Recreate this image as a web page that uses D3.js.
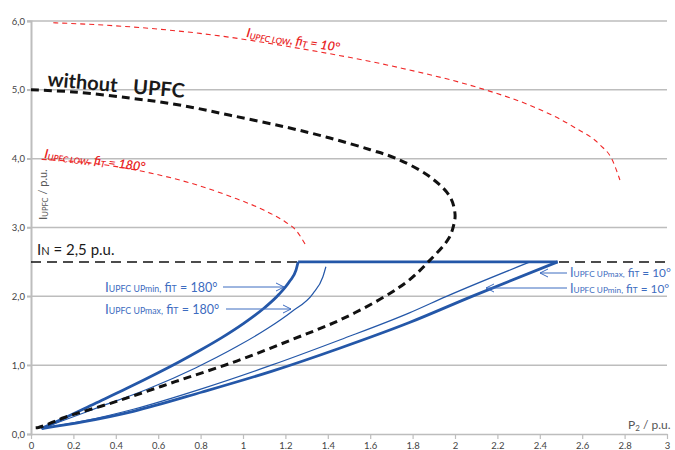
<!DOCTYPE html>
<html><head><meta charset="utf-8">
<script src="https://cdn.jsdelivr.net/npm/d3@7"></script>
<style>body{margin:0;background:#fff}svg{display:block}</style>
</head><body><svg id="c" width="675" height="450"></svg>
<script>
// ---------- data ----------
const xTicks = [0,0.2,0.4,0.6,0.8,1,1.2,1.4,1.6,1.8,2,2.2,2.4,2.6,2.8,3];
const xTickLabels = ["0","0.2","0.4","0.6","0.8","1","1.2","1.4","1.6","1.8","2","2.2","2.4","2.6","2.8","3"];
const yTicks = [0,1,2,3,4,5,6];
const yTickLabels = ["0,0","1,0","2,0","3,0","4,0","5,0","6,0"];
const nominalCurrent = 2.5;

// without UPFC (black dashed)
const noUpfcP = [0,0.2,0.467,0.7,0.94,1.2,1.41,1.6,1.725,1.88,1.976,2.0,1.995,1.97,1.874,1.785,1.67,1.46,1.23,0.97,0.68,0.4,0.158,0.07,0.035,0];
const noUpfcI = [5.0,4.97,4.88,4.78,4.63,4.46,4.30,4.13,4.0,3.74,3.45,3.2,3.05,2.84,2.5,2.24,2.0,1.66,1.37,1.06,0.76,0.47,0.24,0.13,0.095,0.09];

// I_UPFC LOW, fi_T = 10 deg (red dashed)
const low10P = [0.105,0.4,0.797,1.27,1.74,2.133,2.369,2.558,2.684,2.739,2.778];
const low10I = [5.975,5.93,5.82,5.6,5.32,5.01,4.755,4.465,4.2,4.0,3.69];
// I_UPFC LOW, fi_T = 180 deg (red dashed)
const low180P = [0.05,0.3,0.55,0.78,0.95,1.1,1.2,1.25,1.3];
const low180I = [3.99,3.93,3.8,3.62,3.44,3.25,3.08,2.96,2.72];

// I_UPFC UPmin, fi_T = 180 (thick blue)
const upMin180P = [0.05,0.15,0.3,0.45,0.6,0.7,0.8,0.9,1.0,1.1,1.17,1.22,1.25,1.26];
const upMin180I = [0.08,0.22,0.44,0.66,0.89,1.05,1.22,1.40,1.60,1.83,2.03,2.22,2.38,2.5];
// I_UPFC UPmax, fi_T = 180 (thin blue)
const upMax180P = [0.05,0.2,0.321,0.548,0.776,0.971,1.117,1.231,1.33,1.377,1.391];
const upMax180I = [0.08,0.25,0.39,0.65,0.96,1.27,1.535,1.78,2.04,2.285,2.43];
// current limit segment (thick blue)
const limitP = [1.26,2.484];
const limitI = [2.5,2.5];
// I_UPFC UPmin, fi_T = 10 (thick blue)
const upMin10P = [0.05,0.25,0.483,0.808,1.134,1.459,1.785,2.08,2.484];
const upMin10I = [0.08,0.18,0.33,0.61,0.91,1.25,1.62,2.0,2.5];
// I_UPFC UPmax, fi_T = 10 (thin blue)
const upMax10P = [0.05,0.25,0.483,0.808,1.134,1.459,1.785,1.96,2.354];
const upMax10I = [0.08,0.19,0.36,0.66,1.0,1.37,1.76,2.0,2.5];

// ---------- drawing ----------
const svg = d3.select("#c");
const x = d3.scaleLinear().domain([0,3]).range([31,667]);
const y = d3.scaleLinear().domain([0,6]).range([434,21]);
const FONT = "Lato, 'Open Sans', sans-serif";
const zip = (P,I) => P.map((p,i)=>[p,I[i]]);
const smooth = d3.line().x(d=>x(d[0])).y(d=>y(d[1])).curve(d3.curveCatmullRom.alpha(0.5));
const mono = d3.line().x(d=>x(d[0])).y(d=>y(d[1])).curve(d3.curveMonotoneX);
const straight = d3.line().x(d=>x(d[0])).y(d=>y(d[1]));

// gridlines
svg.append("g").selectAll("line").data(yTicks.filter(t=>t>0)).join("line")
  .attr("x1", x(0)-4).attr("x2", x(3)).attr("y1", d=>y(d)).attr("y2", d=>y(d))
  .attr("stroke","#bdbdbd").attr("stroke-width",1.5);

// y axis
const yAxis = svg.append("g").attr("transform",`translate(${x(0)},0)`)
  .call(d3.axisLeft(y).tickValues(yTicks).tickSize(4).tickFormat((d,i)=>yTickLabels[i]));
yAxis.select(".domain").attr("stroke","#bdbdbd").attr("stroke-width",2);
yAxis.selectAll(".tick line").attr("stroke","#bdbdbd").attr("stroke-width",1.5);
yAxis.selectAll(".tick text").attr("font-family",FONT).attr("font-size",9.5).attr("fill","#444").attr("x",-6);

// x axis
const xAxis = svg.append("g").attr("transform",`translate(0,${y(0)})`)
  .call(d3.axisBottom(x).tickValues(xTicks).tickSize(5).tickSizeOuter(0).tickFormat((d,i)=>xTickLabels[i]));
xAxis.select(".domain").attr("stroke","#bdbdbd").attr("stroke-width",1.5);
xAxis.selectAll(".tick line").attr("stroke","#bdbdbd").attr("stroke-width",1.2);
xAxis.selectAll(".tick text").attr("font-family",FONT).attr("font-size",9.5).attr("fill","#444").attr("y",8);

// nominal current line
svg.append("line").attr("x1",x(0)).attr("x2",x(3)).attr("y1",y(nominalCurrent)).attr("y2",y(nominalCurrent))
  .attr("stroke","#111").attr("stroke-width",1.5).attr("stroke-dasharray","10,6");

// red dashed curves
[[low10P,low10I],[low180P,low180I]].forEach(([P,I])=>{
  svg.append("path").attr("d",mono(zip(P,I))).attr("fill","none")
    .attr("stroke","#f02828").attr("stroke-width",1.1).attr("stroke-dasharray","5,4");
});

// blue curves
const BLUE = "#2457a8";
svg.append("path").attr("d",mono(zip(upMax180P,upMax180I))).attr("fill","none").attr("stroke",BLUE).attr("stroke-width",1.2);
svg.append("path").attr("d",mono(zip(upMax10P,upMax10I))).attr("fill","none").attr("stroke",BLUE).attr("stroke-width",1.2);
svg.append("path").attr("d",mono(zip(upMin180P,upMin180I))).attr("fill","none").attr("stroke",BLUE).attr("stroke-width",2.8);
svg.append("path").attr("d",mono(zip(upMin10P,upMin10I))).attr("fill","none").attr("stroke",BLUE).attr("stroke-width",2.8);
svg.append("path").attr("d",straight(zip(limitP,limitI))).attr("fill","none").attr("stroke",BLUE).attr("stroke-width",2.8);

// without UPFC
svg.append("path").attr("d",smooth(zip(noUpfcP,noUpfcI))).attr("fill","none")
  .attr("stroke","#111").attr("stroke-width",3).attr("stroke-dasharray","8,5");

// ---------- text ----------
function richText(g, parts, opts){
  const t = g.append("text").attr("font-family",FONT).attr("fill",opts.fill)
    .attr("font-style",opts.style||"normal").attr("font-weight",opts.weight||"normal");
  parts.forEach(p=>{
    const s = t.append("tspan").text(p.t).attr("font-size",p.s);
    if(p.dy) s.attr("dy",p.dy);
    if(p.dx) s.attr("dx",p.dx);
  });
  return t;
}
// without UPFC
svg.append("text").attr("transform",`translate(47,86) rotate(5)`)
  .attr("font-family",FONT).attr("font-weight","bold").attr("font-size",20).attr("fill","#1a1a1a")
  .call(t=>{t.append("tspan").text("without"); t.append("tspan").attr("dx",16).text("UPFC");});

// red labels
function redLabel(tx,ty,rot,val){
  const g = svg.append("g").attr("transform",`translate(${tx},${ty}) rotate(${rot})`);
  richText(g,[
    {t:"I",s:13},{t:"UPFC LOW",s:8.5,dy:1.5},{t:",  fi",s:12.5,dy:-1.5},{t:"T",s:9,dy:1.5},{t:" = "+val+"°",s:12.5,dy:-1.5}
  ],{fill:"#e82323",style:"italic",weight:"600"});
}
redLabel(246,37,9,"10");
redLabel(44,158,7.5,"180");

// I_N label
richText(svg.append("g").attr("transform","translate(37,255)"),
  [{t:"I",s:15},{t:"N",s:11},{t:" = 2,5 p.u.",s:15}],{fill:"#1a1a1a"});

// blue labels with arrows
const LBLUE = "#3d6cc0";
function blueLabel(tx,ty,kind,val,sz){
  richText(svg.append("g").attr("transform",`translate(${tx},${ty})`),[
    {t:"I",s:sz+1},{t:"UPFC "+kind+",",s:sz*0.7},{t:" fi",s:sz},{t:"T",s:sz*0.7},{t:" = "+val+"°",s:sz}
  ],{fill:LBLUE});
}
function arrow(x1,x2,yy){
  const d = x2>x1?-1:1;
  svg.append("path").attr("d",`M${x1},${yy}L${x2},${yy}M${x2+d*8},${yy-4}L${x2},${yy}L${x2+d*8},${yy+4}`)
    .attr("fill","none").attr("stroke",LBLUE).attr("stroke-width",1);
}
blueLabel(105,292,"UPmin","180",12.5); arrow(223,284,287);
blueLabel(105,314,"UPmax","180",12.5); arrow(226,291,309);
blueLabel(570,277,"UPmax","10",11.8); arrow(567,540,273);
blueLabel(570,293,"UPmin","10",11.8); arrow(567,486,288);

// axis titles
richText(svg.append("g").attr("transform","translate(47,220) rotate(-90)"),
  [{t:"I",s:12},{t:"UPFC",s:7.5,dy:1},{t:" / p.u.",s:11,dy:-1}],{fill:"#555"});
richText(svg.append("g").attr("transform","translate(628,429)"),
  [{t:"P",s:12},{t:"2",s:8,dy:2},{t:" / p.u.",s:12,dy:-2}],{fill:"#555"});
</script></body></html>
